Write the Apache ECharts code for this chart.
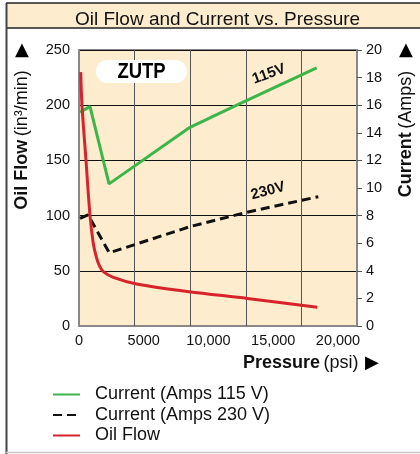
<!DOCTYPE html>
<html>
<head>
<meta charset="utf-8">
<script src="https://cdn.jsdelivr.net/npm/echarts@6/dist/echarts.min.js"></script>
<style>
html,body{margin:0;padding:0;background:#fff;}
#c{width:420px;height:454px;}
</style>
</head>
<body>
<div id="c"></div>
<script>
// ---- data ----
var xTickLabels = ['0', '5000', '10,000', '15,000', '20,000'];
var oilPressure = [130, 230, 540, 850, 1100, 1350, 1600, 1900, 2650, 4450, 8500, 13000, 18400];
var oilFlow     = [230, 200, 150, 100, 75, 62, 54, 49, 44, 38, 31, 25, 17];
var c115Pressure = [80, 850, 2320, 8570, 12180, 18350];
var c115Amps     = [15.5, 15.9, 10.3, 14.4, 16.0, 18.7];
var c230Pressure = [80, 700, 2340, 8570, 12950, 18480];
var c230Amps     = [7.8, 8.05, 5.3, 7.2, 8.24, 9.37];
var xMax = 21467;      // right edge of the plot, in psi
var xGridCount = 5;    // vertical grid lines divide the plot into 5 columns

function pairs(xs, ys){ return xs.map(function(x,i){ return [x, ys[i]]; }); }
var vGrid = [];
for (var k = 1; k < xGridCount; k++) vGrid.push({xAxis: k * xMax / xGridCount});

var SANS = '"Liberation Sans", Arial, Helvetica, sans-serif';
var SYM = '"DejaVu Sans", sans-serif';
var BG = '#fdecce';

var chart = echarts.init(document.getElementById('c'), null, {renderer:'canvas'});
var option = {
  animation: false,
  backgroundColor: '#fff',
  title: {
    text: 'Oil Flow and Current vs. Pressure',
    left: 70, top: 5,
    textStyle: {fontFamily: SANS, fontSize: 19, fontWeight: 'normal', color: '#111'}
  },
  grid: {left: 79, top: 50, width: 278, height: 276, show: true, backgroundColor: BG, borderWidth: 2, borderColor: '#888'},
  xAxis: [
    {
      type: 'value', min: 0, max: xMax, interval: 5000, position: 'bottom',
      axisLine: {show: true, lineStyle: {color: '#888', width: 2}},
      axisTick: {show: false}, splitLine: {show: false},
      axisLabel: {
        showMaxLabel: false, margin: 7, color: '#111', fontFamily: SANS, fontSize: 14.5,
        formatter: function(v){ var i = Math.round(v/5000); return v % 5000 === 0 && xTickLabels[i] !== undefined ? xTickLabels[i] : ''; }
      }
    }
  ],
  yAxis: [
    {
      type: 'value', min: 0, max: 250, interval: 50, position: 'left',
      axisLine: {show: true, lineStyle: {color: '#888', width: 2}},
      axisTick: {show: false},
      splitLine: {show: true, lineStyle: {color: '#111', width: 1}},
      axisLabel: {margin: 9, color: '#111', fontFamily: SANS, fontSize: 14.5}
    },
    {
      type: 'value', min: 0, max: 20, interval: 2, position: 'right',
      axisLine: {show: true, lineStyle: {color: '#888', width: 2}},
      axisTick: {show: true, length: 5, lineStyle: {color: '#555'}},
      splitLine: {show: false},
      axisLabel: {margin: 9, color: '#111', fontFamily: SANS, fontSize: 14.5}
    }
  ],
  legend: {
    orient: 'vertical', left: 52, top: 385, height: 68, padding: 0,
    itemWidth: 27, itemHeight: 14, itemGap: 1.5,
    itemStyle: {opacity: 0},
    data: ['Current (Amps 115 V)', 'Current (Amps 230 V)', 'Oil Flow'],
    formatter: function(n){ return '{p|}' + n; },
    textStyle: {fontFamily: SANS, fontSize: 18, color: '#111', lineHeight: 19, rich: {p: {width: 10}}}
  },
  series: [
    {
      name: 'Current (Amps 115 V)', type: 'line', xAxisIndex: 0, yAxisIndex: 1,
      data: pairs(c115Pressure, c115Amps), symbol: 'none',
      lineStyle: {color: '#3cb54a', width: 3}, itemStyle: {color: '#3cb54a'}, z: 3
    },
    {
      name: 'Current (Amps 230 V)', type: 'line', xAxisIndex: 0, yAxisIndex: 1,
      data: pairs(c230Pressure, c230Amps), symbol: 'none',
      lineStyle: {color: '#111', width: 3, type: [9, 5]}, itemStyle: {color: '#111'}, z: 3
    },
    {
      name: 'Oil Flow', type: 'line', xAxisIndex: 0, yAxisIndex: 0,
      data: pairs(oilPressure, oilFlow), symbol: 'none', smooth: 0.3,
      lineStyle: {color: '#d7232b', width: 3}, itemStyle: {color: '#d7232b'}, z: 4,
      markLine: {
        silent: true, z: 1, symbol: ['none', 'none'], animation: false,
        label: {show: false},
        lineStyle: {color: '#555', width: 1, type: 'solid'},
        emphasis: {disabled: true},
        data: vGrid
      }
    }
  ],
  graphic: [
    {type: 'rect', z: -10, shape: {x: 6, y: 3, width: 414, height: 25}, style: {fill: BG}},
    {type: 'line', z: 10, shape: {x1: 6, y1: 3, x2: 420, y2: 3}, style: {stroke: '#222', lineWidth: 1.5}},
    {type: 'line', z: 10, shape: {x1: 6, y1: 28, x2: 420, y2: 28}, style: {stroke: '#222', lineWidth: 1.5}},
    {type: 'line', z: 10, shape: {x1: 6.5, y1: 3, x2: 6.5, y2: 454}, style: {stroke: '#444', lineWidth: 2}},
    {type: 'line', z: 10, shape: {x1: 6, y1: 452.5, x2: 420, y2: 452.5}, style: {stroke: '#c8c8c8', lineWidth: 1.5}},
    // ZUTP badge
    {type: 'rect', z: 20, shape: {x: 96, y: 60, width: 91, height: 23, r: 11.5}, style: {fill: '#fff'}},
    {type: 'text', z: 21, x: 141.5, y: 72, scaleX: 0.84, style: {text: 'ZUTP', fontFamily: SANS, fontWeight: 'bold', fontSize: 22, fill: '#000', align: 'center', verticalAlign: 'middle'}},
    // curve labels
    {type: 'text', z: 21, x: 269, y: 74, rotation: 20 * Math.PI / 180, style: {text: '115V', fontFamily: SANS, fontWeight: 'bold', fontSize: 15, fill: '#111', align: 'center', verticalAlign: 'middle'}},
    {type: 'text', z: 21, x: 268, y: 191, rotation: 15 * Math.PI / 180, style: {text: '230V', fontFamily: SANS, fontWeight: 'bold', fontSize: 15, fill: '#111', align: 'center', verticalAlign: 'middle'}},
    // left axis name
    {type: 'text', z: 21, x: 22, y: 50, style: {text: '▲', fontFamily: SYM, fontSize: 18, fill: '#000', align: 'center', verticalAlign: 'middle'}},
    {type: 'text', z: 21, x: 22, y: 140, rotation: Math.PI / 2, style: {
      text: '{b|Oil Flow} {r|(in³/min)}', align: 'center', verticalAlign: 'middle',
      rich: {b: {fontFamily: SANS, fontWeight: 'bold', fontSize: 18, fill: '#111'}, r: {fontFamily: SANS, fontSize: 18, fill: '#111'}}
    }},
    // right axis name
    {type: 'text', z: 21, x: 406, y: 50, style: {text: '▲', fontFamily: SYM, fontSize: 18, fill: '#000', align: 'center', verticalAlign: 'middle'}},
    {type: 'text', z: 21, x: 406, y: 134, rotation: Math.PI / 2, style: {
      text: '{b|Current} {r|(Amps)}', align: 'center', verticalAlign: 'middle',
      rich: {b: {fontFamily: SANS, fontWeight: 'bold', fontSize: 18, fill: '#111'}, r: {fontFamily: SANS, fontSize: 18, fill: '#111'}}
    }},
    // bottom axis name
    {type: 'text', z: 21, x: 243, y: 363, style: {
      text: '{b|Pressure} {r|(psi)}  {t|▶}', align: 'left', verticalAlign: 'middle',
      rich: {b: {fontFamily: SANS, fontWeight: 'bold', fontSize: 18, fill: '#111'}, r: {fontFamily: SANS, fontSize: 18, fill: '#111'}, t: {fontFamily: SYM, fontSize: 18, fill: '#000'}}
    }}
  ]
};
chart.setOption(option);
</script>
</body>
</html>
